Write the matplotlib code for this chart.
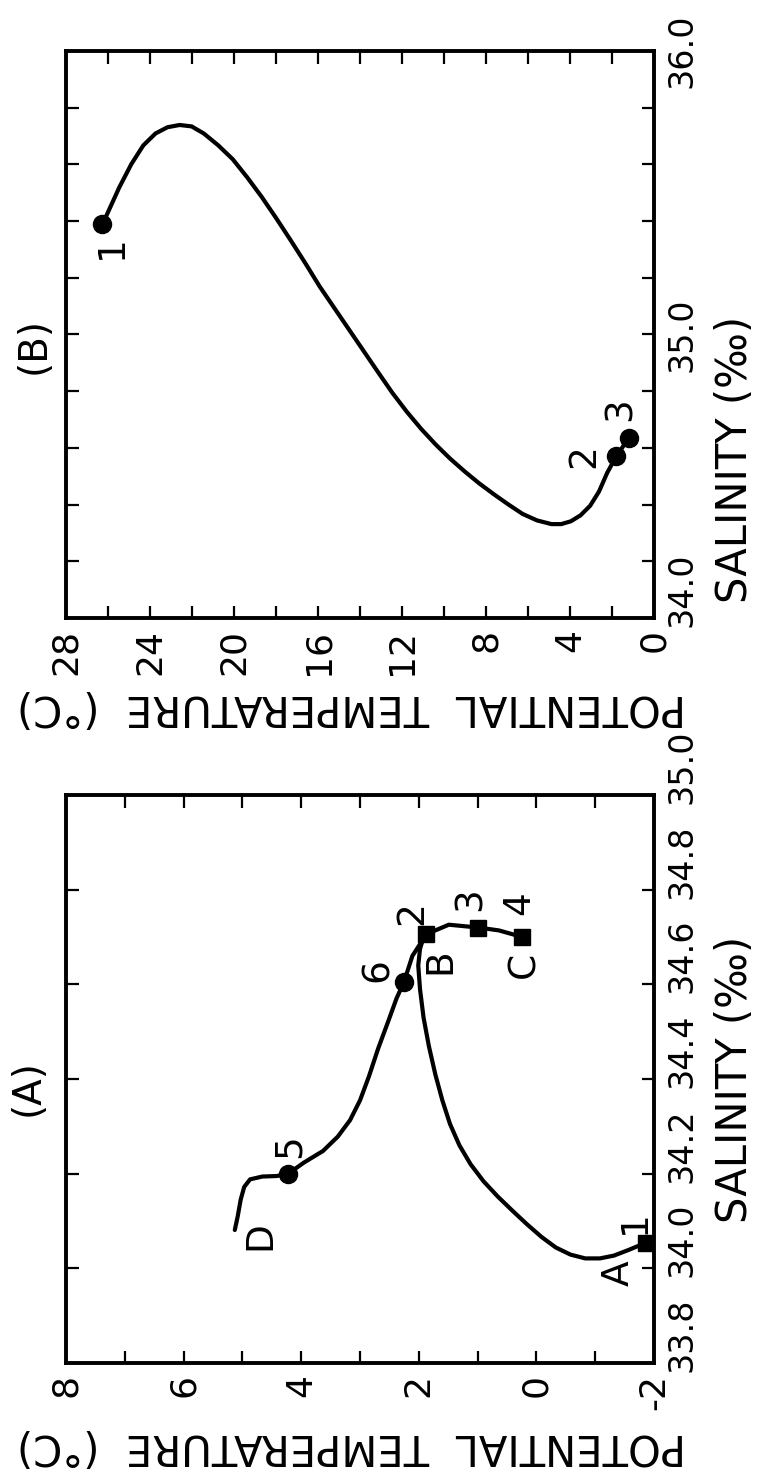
import matplotlib.pyplot as plt
import matplotlib.transforms as mtransforms

# Panel A : potential temperature (deg C) vs salinity
a_line1_temp = [-1.86, -1.57, -1.32, -1.08, -0.83, -0.58, -0.33, -0.09, 0.16, 0.41,
                0.66, 0.90, 1.12, 1.31, 1.47, 1.60, 1.72, 1.83, 1.92, 1.98,
                2.01, 1.98, 1.93, 1.87]
a_line1_sal = [34.054, 34.039, 34.027, 34.021, 34.021, 34.029, 34.044, 34.066, 34.093, 34.122,
               34.152, 34.184, 34.220, 34.260, 34.305, 34.355, 34.410, 34.470, 34.530, 34.590,
               34.640, 34.675, 34.695, 34.706]

a_line2_temp = [5.13, 5.08, 5.03, 4.97, 4.87, 4.66, 4.42, 4.22, 3.96, 3.63,
                3.38, 3.17, 3.00, 2.85, 2.69, 2.52, 2.38, 2.25, 2.11, 1.87,
                1.49, 0.99, 0.64, 0.24]
a_line2_sal = [34.081, 34.110, 34.145, 34.172, 34.188, 34.194, 34.195, 34.200, 34.223, 34.248,
               34.278, 34.313, 34.355, 34.405, 34.465, 34.522, 34.570, 34.606, 34.660, 34.706,
               34.726, 34.720, 34.714, 34.700]

a_square_temp = [-1.86, 1.87, 0.99, 0.24]
a_square_sal = [34.054, 34.706, 34.720, 34.700]
a_circle_temp = [4.22, 2.25]
a_circle_sal = [34.200, 34.606]

a_text = ["1", "A", "2", "B", "3", "4", "C", "5", "6", "D"]
a_text_temp = [-1.68, -1.40, 2.11, 1.63, 1.11, 0.29, 0.21, 4.20, 2.70, 4.70]
a_text_sal = [34.098, 33.990, 34.750, 34.648, 34.781, 34.771, 34.641, 34.258, 34.630, 34.069]

a_temp_ticks = [-2, -1, 0, 1, 2, 3, 4, 5, 6, 7, 8]
a_temp_labels = ["-2", "", "0", "", "2", "", "4", "", "6", "", "8"]
a_sal_ticks = [33.8, 34.0, 34.2, 34.4, 34.6, 34.8, 35.0]
a_sal_labels = ["33.8", "34.0", "34.2", "34.4", "34.6", "34.8", "35.0"]

# Panel B
b_line_temp = [26.27, 25.93, 25.47, 24.89, 24.32, 23.74, 23.17, 22.59, 22.02, 21.44,
               20.75, 20.06, 19.37, 18.68, 17.99, 17.30, 16.61, 15.92, 15.23, 14.54,
               13.85, 13.16, 12.47, 11.78, 11.09, 10.40, 9.71, 9.02, 8.33, 7.64,
               6.95, 6.26, 5.57, 4.88, 4.42, 3.96, 3.50, 3.04, 2.62, 2.23,
               1.80, 1.20]
b_line_sal = [35.388, 35.443, 35.518, 35.601, 35.667, 35.709, 35.731, 35.739, 35.734, 35.709,
              35.667, 35.618, 35.554, 35.485, 35.410, 35.332, 35.252, 35.169, 35.094, 35.019,
              34.944, 34.869, 34.795, 34.728, 34.667, 34.612, 34.562, 34.517, 34.475, 34.437,
              34.401, 34.367, 34.344, 34.331, 34.331, 34.341, 34.362, 34.396, 34.446, 34.512,
              34.570, 34.635]

b_circle_temp = [26.27, 1.80, 1.20]
b_circle_sal = [35.388, 34.570, 34.635]

b_text = ["1", "2", "3"]
b_text_temp = [25.80, 3.30, 1.60]
b_text_sal = [35.310, 34.570, 34.735]

b_temp_ticks = list(range(0, 29, 2))
b_temp_labels = [str(t) if t % 4 == 0 else "" for t in b_temp_ticks]
b_sal_ticks = [34.0, 34.2, 34.4, 34.6, 34.8, 35.0, 35.2, 35.4, 35.6, 35.8, 36.0]
b_sal_labels = ["34.0", "", "", "", "", "35.0", "", "", "", "", "36.0"]

plt.rcParams['font.family'] = 'DejaVu Sans'

fig = plt.figure(figsize=(7.59, 14.78), dpi=100)
axB = fig.add_axes([0.087, 0.5819, 0.7747, 0.3836])
axA = fig.add_axes([0.087, 0.0778, 0.7747, 0.3843])


def style(ax, tlim, slim, tt, tl, st, sl, nshift):
    ax.set_xlim(tlim)
    ax.set_ylim(slim)
    ax.set_xticks(tt)
    ax.set_xticklabels(tl, rotation=90, fontsize=26)
    ax.set_yticks(st)
    ax.set_yticklabels(sl, rotation=90, fontsize=24, va='center')
    ax.tick_params(direction='in', length=9, width=1.6, top=True, bottom=True,
                   left=True, right=True, labelleft=False, labelright=True, pad=8)
    # hand-lettered salinity labels sit a little above their ticks
    off = mtransforms.ScaledTranslation(0, -0.09, fig.dpi_scale_trans)
    for tk in ax.yaxis.get_major_ticks()[:nshift]:
        tk.label2.set_va('bottom')
        tk.label2.set_transform(tk.label2.get_transform() + off)
    for sp in ax.spines.values():
        sp.set_linewidth(2.8)


# panel A
axA.plot(a_line1_temp, a_line1_sal, color='k', lw=3.0, solid_capstyle='round')
axA.plot(a_line2_temp, a_line2_sal, color='k', lw=3.0, solid_capstyle='round')
axA.plot(a_square_temp, a_square_sal, 's', color='k', ms=12)
axA.plot(a_circle_temp, a_circle_sal, 'o', color='k', ms=13)
for s, t, y in zip(a_text, a_text_temp, a_text_sal):
    axA.text(t, y, s, rotation=90, fontsize=27, ha='center', va='center')
style(axA, (8, -2), (33.8, 35.0), a_temp_ticks, a_temp_labels, a_sal_ticks, a_sal_labels,
      len(a_sal_ticks))
axA.text(-0.065, 0.485, "(A)", transform=axA.transAxes, rotation=90, fontsize=28,
         ha='center', va='center')
axA.text(0.486, -0.146, "POTENTIAL  TEMPERATURE  (°C)", transform=axA.transAxes,
         rotation=180, fontsize=30, ha='center', va='center')
axA.text(1.138, 0.50, "SALINITY (‰)", transform=axA.transAxes, rotation=90,
         fontsize=30, ha='center', va='center')

# panel B
axB.plot(b_line_temp, b_line_sal, color='k', lw=3.0, solid_capstyle='round')
axB.plot(b_circle_temp, b_circle_sal, 'o', color='k', ms=13)
for s, t, y in zip(b_text, b_text_temp, b_text_sal):
    axB.text(t, y, s, rotation=90, fontsize=27, ha='center', va='center')
style(axB, (28, 0), (34.0, 36.0), b_temp_ticks, b_temp_labels, b_sal_ticks, b_sal_labels, 1)
axB.text(-0.055, 0.48, "(B)", transform=axB.transAxes, rotation=90, fontsize=28,
         ha='center', va='center')
axB.text(0.486, -0.157, "POTENTIAL  TEMPERATURE  (°C)", transform=axB.transAxes,
         rotation=180, fontsize=30, ha='center', va='center')
axB.text(1.138, 0.28, "SALINITY (‰)", transform=axB.transAxes, rotation=90,
         fontsize=30, ha='center', va='center')

fig.savefig("out.png", dpi=100)
